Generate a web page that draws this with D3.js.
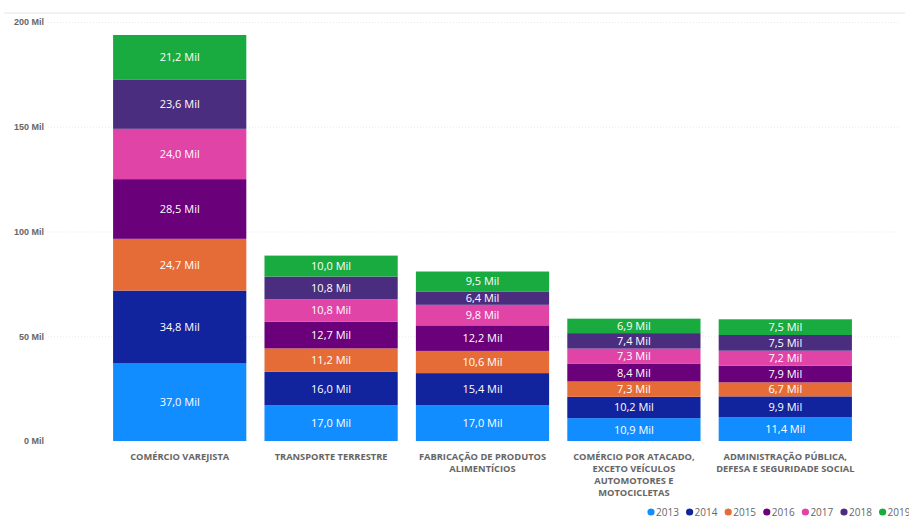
<!DOCTYPE html>
<html>
<head>
<meta charset="utf-8">
<script src="https://cdn.jsdelivr.net/npm/d3@7"></script>
<style>
  body { margin: 0; background: #fff; }
  svg { display: block; font-family: "Open Sans", "Noto Sans", sans-serif; }
  .axis text { fill: #666; font-size: 9px; font-weight: 600; }
  .cat { fill: #666; font-size: 9.3px; font-weight: 700; }
  .seg { fill: #fff; font-size: 11px; }
  .legend text { fill: #666; font-size: 10px; }
</style>
</head>
<body>
<div id="chart"></div>
<script>
// categories and values (thousands)
let categories = [
    "COMÉRCIO VAREJISTA",
    "TRANSPORTE TERRESTRE",
    "FABRICAÇÃO DE PRODUTOS ALIMENTÍCIOS",
    "COMÉRCIO POR ATACADO, EXCETO VEÍCULOS AUTOMOTORES E MOTOCICLETAS",
    "ADMINISTRAÇÃO PÚBLICA, DEFESA E SEGURIDADE SOCIAL"
];
let catLines = [
    ["COMÉRCIO VAREJISTA"],
    ["TRANSPORTE TERRESTRE"],
    ["FABRICAÇÃO DE PRODUTOS", "ALIMENTÍCIOS"],
    ["COMÉRCIO POR ATACADO,", "EXCETO VEÍCULOS", "AUTOMOTORES E", "MOTOCICLETAS"],
    ["ADMINISTRAÇÃO PÚBLICA,", "DEFESA E SEGURIDADE SOCIAL"]
];
let years = ["2013", "2014", "2015", "2016", "2017", "2018", "2019"];
let v2013 = [37.0, 17.0, 17.0, 10.9, 11.4];
let v2014 = [34.8, 16.0, 15.4, 10.2, 9.9];
let v2015 = [24.7, 11.2, 10.6, 7.3, 6.7];
let v2016 = [28.5, 12.7, 12.2, 8.4, 7.9];
let v2017 = [24.0, 10.8, 9.8, 7.3, 7.2];
let v2018 = [23.6, 10.8, 6.4, 7.4, 7.5];
let v2019 = [21.2, 10.0, 9.5, 6.9, 7.5];
let yTicks = [0, 50, 100, 150, 200];
let colors = ["#118DFF", "#12239E", "#E66C37", "#6B007B", "#E044A7", "#4B2D80", "#1AAB40"];

let series = [v2013, v2014, v2015, v2016, v2017, v2018, v2019];
let w = 909, h = 517;

let rows = categories.map(function (c, i) {
    let r = { cat: c };
    years.forEach(function (y, j) { r[y] = series[j][i]; });
    return r;
});

let stack = d3.stack().keys(years)(rows);

let xScale = d3.scaleBand()
    .domain(categories)
    .range([104, 861])
    .paddingInner(0.12)
    .paddingOuter(0.06);

let yScale = d3.scaleLinear()
    .domain([0, 200])
    .range([441, 22]);

let svg = d3.select("#chart")
    .append("svg")
    .attr("width", w)
    .attr("height", h);

// top border line
svg.append("line")
    .attr("x1", 4).attr("x2", 905)
    .attr("y1", 13).attr("y2", 13)
    .style("stroke", "#eee")
    .style("stroke-width", "1.5px");

// gridlines
svg.append("g")
    .selectAll("line")
    .data(yTicks.slice(1))
    .enter()
    .append("line")
    .attr("x1", 48).attr("x2", 900)
    .attr("y1", function (d) { return yScale(d) + 0.5; })
    .attr("y2", function (d) { return yScale(d) + 0.5; })
    .style("stroke", "#eaeaea")
    .style("stroke-dasharray", "1,2");

let yAxis = d3.axisLeft(yScale)
    .tickValues(yTicks)
    .tickSize(0)
    .tickPadding(0)
    .tickFormat(function (d) { return d + " Mil"; });

svg.append("g")
    .attr("class", "axis")
    .attr("transform", "translate(44, 0)")
    .call(yAxis)
    .call(function (g) { g.select(".domain").remove(); });

let layers = svg.selectAll(".layer")
    .data(stack)
    .enter()
    .append("g")
    .attr("class", "layer")
    .attr("fill", function (d, i) { return colors[i]; });

layers.selectAll("rect")
    .data(function (d) { return d; })
    .enter()
    .append("rect")
    .attr("x", function (d) { return xScale(d.data.cat); })
    .attr("width", xScale.bandwidth())
    .attr("y", function (d) { return yScale(d[1]); })
    .attr("height", function (d) { return yScale(d[0]) - yScale(d[1]); });

layers.selectAll("text")
    .data(function (d) { return d; })
    .enter()
    .append("text")
    .attr("class", "seg")
    .attr("x", function (d) { return xScale(d.data.cat) + xScale.bandwidth() / 2; })
    .attr("y", function (d) { return (yScale(d[0]) + yScale(d[1])) / 2; })
    .attr("dy", "0.36em")
    .style("text-anchor", "middle")
    .text(function (d) { return (d[1] - d[0]).toFixed(1).replace(".", ",") + " Mil"; });

// category labels
let cats = svg.selectAll(".cat")
    .data(categories)
    .enter()
    .append("text")
    .attr("class", "cat")
    .attr("x", function (d) { return xScale(d) + xScale.bandwidth() / 2; })
    .attr("y", 460)
    .style("text-anchor", "middle");

cats.selectAll("tspan")
    .data(function (d, i) { return catLines[i]; })
    .enter()
    .append("tspan")
    .attr("x", function () { return d3.select(this.parentNode).attr("x"); })
    .attr("dy", function (d, i) { return i === 0 ? 0 : 12; })
    .text(function (d) { return d; });

// legend
let legend = svg.append("g")
    .attr("class", "legend")
    .attr("transform", "translate(651, 512)");

let items = legend.selectAll("g")
    .data(years)
    .enter()
    .append("g")
    .attr("transform", function (d, i) { return "translate(" + (i * 38.6) + ",0)"; });

items.append("circle")
    .attr("r", 3.6)
    .attr("fill", function (d, i) { return colors[i]; });

items.append("text")
    .attr("x", 5)
    .attr("dy", "0.35em")
    .text(function (d) { return d; });
</script>
</body>
</html>
